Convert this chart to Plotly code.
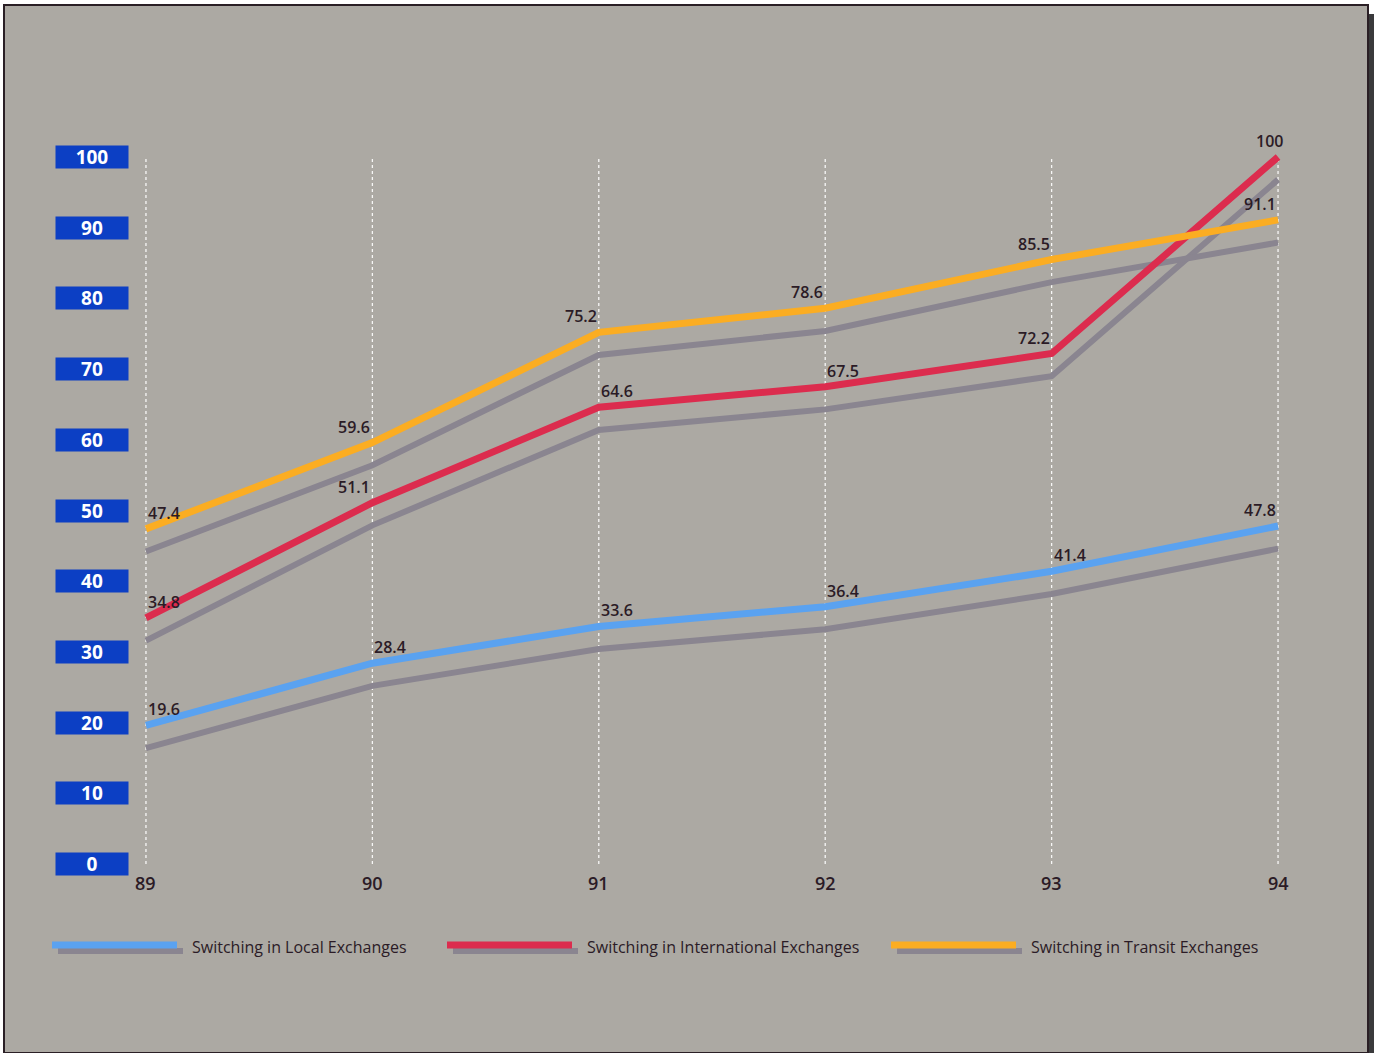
import plotly.graph_objects as go

# ---- data ----
years = [89, 90, 91, 92, 93, 94]
year_labels = ["89", "90", "91", "92", "93", "94"]
local = [19.6, 28.4, 33.6, 36.4, 41.4, 47.8]
international = [34.8, 51.1, 64.6, 67.5, 72.2, 100]
transit = [47.4, 59.6, 75.2, 78.6, 85.5, 91.1]
series_names = ["Switching in Local Exchanges",
                "Switching in International Exchanges",
                "Switching in Transit Exchanges"]
y_ticks = [0, 10, 20, 30, 40, 50, 60, 70, 80, 90, 100]

# ---- style ----
W, H = 1374, 1053
ML, MR, MT, MB = 100, 50, 100, 153
PW, PH = W - ML - MR, H - MT - MB
X_RANGE = [88.797, 94.203]
Y_RANGE = [-5.09, 108.06]
colors = ["#5aa2f0", "#dc2c4e", "#fbad22"]
shadow_col = "#8a8590"
shadow_off = 3.2
text_col = "#2b1b26"
font_fam = "Open Sans"
# label direction (+1 right, -1 left) per point
label_dirs = [
    [1, 1, 1, 1, 1, -1],
    [1, -1, 1, 1, -1, -0.5],
    [1, -1, -1, -1, -1, -1],
]

def px(xp):
    return (xp - ML) / PW

def py(yp):
    return (H - MB - yp) / PH

fig = go.Figure()

# gridlines
for yr in years:
    fig.add_trace(go.Scatter(x=[yr, yr], y=[y_ticks[0], y_ticks[-1]], mode="lines",
                             line=dict(color="rgba(255,255,255,0.9)", width=1.3, dash="dot"),
                             hoverinfo="skip", showlegend=False))

all_series = [local, international, transit]
# shadows first
for s in all_series:
    fig.add_trace(go.Scatter(x=years, y=[v - shadow_off for v in s], mode="lines",
                             line=dict(color=shadow_col, width=6),
                             hoverinfo="skip", showlegend=False))
for s, c, n in zip(all_series, colors, series_names):
    fig.add_trace(go.Scatter(x=years, y=s, mode="lines", name=n,
                             line=dict(color=c, width=7), showlegend=False))

annotations = []
# data labels
for s, dirs in zip(all_series, label_dirs):
    for x, v, d in zip(years, s, dirs):
        annotations.append(dict(x=x, y=v, xref="x", yref="y", text=f"{v:g}",
                                showarrow=False, xshift=18 * d, yshift=16,
                                font=dict(family=font_fam, size=16, color=text_col, weight=600)))
# y tick boxes
for t in y_ticks:
    annotations.append(dict(x=px(92), y=t, xref="paper", yref="y", text=f"<b>{t}</b>",
                            showarrow=False, xanchor="center", yanchor="middle",
                            width=70, height=20, bgcolor="#0c3fc4",
                            font=dict(family=font_fam, size=19, color="white")))
# x tick labels
for x, lab in zip(years, year_labels):
    annotations.append(dict(x=x, y=0, xref="x", yref="y", text=lab, showarrow=False,
                            yanchor="top", yshift=-5,
                            font=dict(family=font_fam, size=18, color=text_col, weight=600)))

shapes = []
# panel background + border + right shadow
shapes.append(dict(type="rect", xref="paper", yref="paper", x0=px(1368), x1=px(1374),
                   y0=py(1053), y1=py(14), fillcolor="#3a3a3c", line=dict(width=0), layer="below"))
shapes.append(dict(type="rect", xref="paper", yref="paper", x0=px(4), x1=px(1368),
                   y0=py(1053), y1=py(5), fillcolor="#aca9a3",
                   line=dict(color="#2a1f25", width=2), layer="below"))

# legend
legend_x = [52, 447, 891]
for lx, c, n in zip(legend_x, colors, series_names):
    shapes.append(dict(type="line", xref="paper", yref="paper", x0=px(lx + 6), x1=px(lx + 131),
                       y0=py(951), y1=py(951), line=dict(color=shadow_col, width=6), layer="above"))
    shapes.append(dict(type="line", xref="paper", yref="paper", x0=px(lx), x1=px(lx + 125),
                       y0=py(945), y1=py(945), line=dict(color=c, width=7), layer="above"))
    annotations.append(dict(x=px(lx + 138), y=py(947), xref="paper", yref="paper", text=n,
                            showarrow=False, xanchor="left", yanchor="middle",
                            font=dict(family=font_fam, size=16, color=text_col)))

fig.update_layout(
    width=W, height=H,
    margin=dict(l=ML, r=MR, t=MT, b=MB),
    paper_bgcolor="white", plot_bgcolor="rgba(0,0,0,0)",
    xaxis=dict(range=X_RANGE, visible=False, fixedrange=True),
    yaxis=dict(range=Y_RANGE, visible=False, fixedrange=True),
    annotations=annotations, shapes=shapes, showlegend=False,
)

fig.write_html("out.html")
